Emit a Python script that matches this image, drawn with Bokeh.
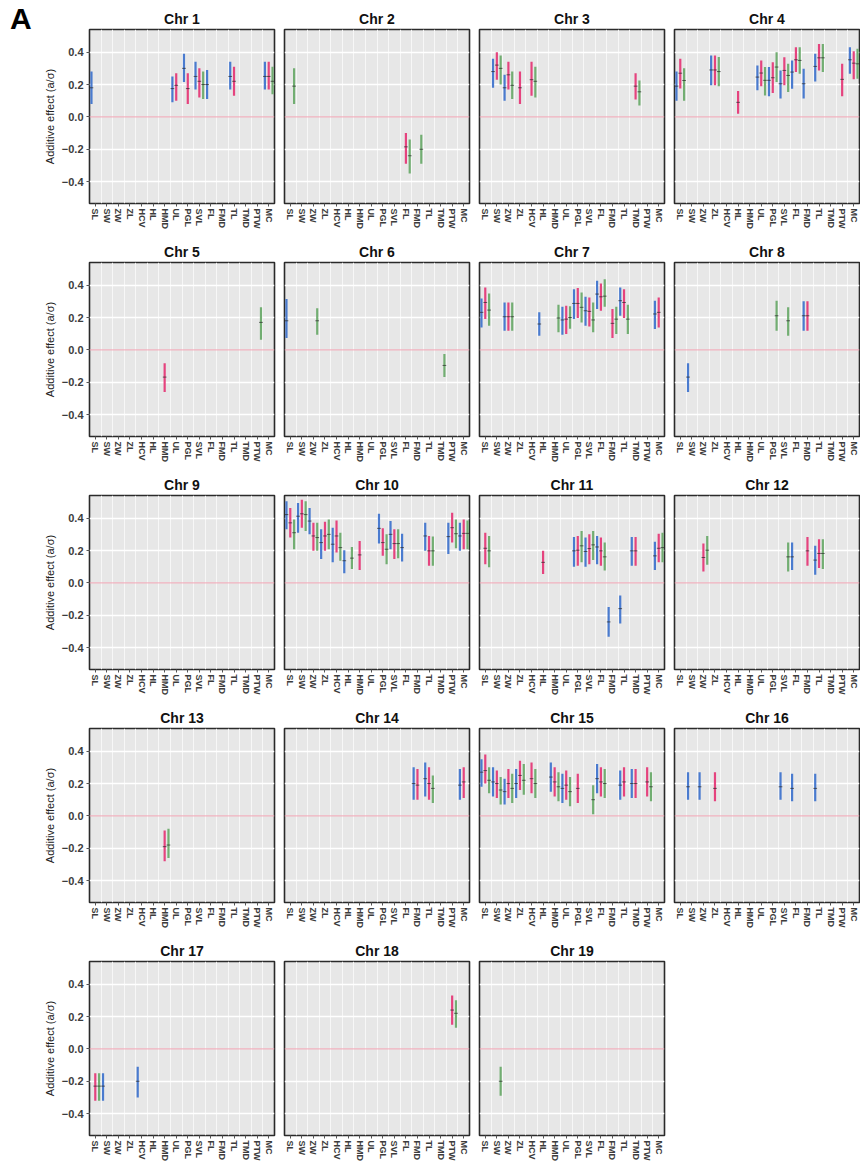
from bokeh.plotting import figure
from bokeh.layouts import gridplot, column
from bokeh.models import Range1d, FixedTicker, Span, Div
from bokeh.embed import file_html
from bokeh.resources import INLINE

TRAITS = ["SL", "SW", "ZW", "ZL", "HCV", "HL", "HMD", "UL", "PGL", "SVL",
          "FL", "FMD", "TL", "TMD", "PTW", "MC"]
Y_TICKS = [-0.4, -0.2, 0.0, 0.2, 0.4]
Y_LABELS = ["\u22120.4", "\u22120.2", "0.0", "0.2", "0.4"]
Y_TITLE = "Additive effect (a/\u03c3)"
PANEL_LETTER = "A"

# (trait, series, estimate, lower, upper) ; series: b = blue, r = red, g = green
CHR1 = [("SL", "b", 0.18, 0.08, 0.28), ("UL", "b", 0.175, 0.09, 0.25), ("UL", "r", 0.195, 0.10, 0.27),
        ("PGL", "b", 0.30, 0.215, 0.39), ("PGL", "r", 0.175, 0.08, 0.27), ("SVL", "b", 0.25, 0.17, 0.34),
        ("SVL", "r", 0.22, 0.12, 0.30), ("SVL", "g", 0.20, 0.11, 0.28), ("FL", "b", 0.20, 0.11, 0.29),
        ("TL", "b", 0.25, 0.17, 0.34), ("TL", "r", 0.22, 0.13, 0.31), ("MC", "b", 0.25, 0.17, 0.34),
        ("MC", "r", 0.25, 0.17, 0.34), ("MC", "g", 0.22, 0.14, 0.31)]
CHR2 = [("SL", "g", 0.19, 0.08, 0.30), ("FL", "r", -0.185, -0.29, -0.10), ("FL", "g", -0.24, -0.35, -0.14),
        ("FMD", "g", -0.20, -0.29, -0.11)]
CHR3 = [("SW", "b", 0.28, 0.18, 0.36), ("SW", "r", 0.32, 0.23, 0.40), ("SW", "g", 0.30, 0.20, 0.38),
        ("ZW", "b", 0.18, 0.10, 0.26), ("ZW", "r", 0.26, 0.17, 0.34), ("ZW", "g", 0.195, 0.11, 0.28),
        ("ZL", "r", 0.18, 0.08, 0.28), ("HCV", "r", 0.23, 0.13, 0.34), ("HCV", "g", 0.22, 0.12, 0.31),
        ("TMD", "r", 0.19, 0.107, 0.27), ("TMD", "g", 0.155, 0.07, 0.225)]
CHR4 = [("SL", "b", 0.19, 0.10, 0.28), ("SL", "r", 0.27, 0.175, 0.36), ("SL", "g", 0.225, 0.10, 0.30),
        ("ZL", "b", 0.29, 0.195, 0.38), ("ZL", "r", 0.29, 0.195, 0.38), ("ZL", "g", 0.28, 0.19, 0.37),
        ("HL", "r", 0.09, 0.02, 0.16),
        ("UL", "b", 0.246, 0.164, 0.318), ("UL", "r", 0.271, 0.189, 0.349), ("UL", "g", 0.226, 0.133, 0.308),
        ("PGL", "b", 0.226, 0.127, 0.308), ("PGL", "r", 0.242, 0.148, 0.338), ("PGL", "g", 0.308, 0.215, 0.40),
        ("SVL", "b", 0.205, 0.113, 0.287), ("SVL", "r", 0.287, 0.195, 0.369), ("SVL", "g", 0.256, 0.154, 0.328),
        ("FL", "b", 0.277, 0.174, 0.349), ("FL", "r", 0.353, 0.277, 0.431), ("FL", "g", 0.349, 0.267, 0.431),
        ("FMD", "b", 0.205, 0.113, 0.297),
        ("TL", "b", 0.312, 0.219, 0.39), ("TL", "r", 0.365, 0.287, 0.451), ("TL", "g", 0.365, 0.277, 0.451),
        ("PTW", "r", 0.232, 0.127, 0.328),
        ("MC", "b", 0.353, 0.267, 0.431), ("MC", "r", 0.332, 0.232, 0.406), ("MC", "g", 0.328, 0.236, 0.421)]
CHR5 = [("HMD", "r", -0.168, -0.26, -0.082), ("PTW", "g", 0.17, 0.062, 0.263)]
CHR6 = [("SL", "b", 0.18, 0.074, 0.314), ("ZW", "g", 0.18, 0.094, 0.258), ("TMD", "g", -0.096, -0.168, -0.025)]
CHR7 = [("SL", "b", 0.232, 0.139, 0.318), ("SL", "r", 0.293, 0.191, 0.386), ("SL", "g", 0.246, 0.150, 0.349),
        ("ZW", "b", 0.205, 0.119, 0.293), ("ZW", "r", 0.205, 0.119, 0.293), ("ZW", "g", 0.205, 0.119, 0.293),
        ("HL", "b", 0.16, 0.088, 0.232), ("HMD", "g", 0.197, 0.109, 0.279),
        ("UL", "b", 0.185, 0.094, 0.267), ("UL", "r", 0.19, 0.098, 0.273), ("UL", "g", 0.20, 0.13, 0.27),
        ("PGL", "b", 0.287, 0.191, 0.375), ("PGL", "r", 0.287, 0.197, 0.382), ("PGL", "g", 0.263, 0.170, 0.355),
        ("SVL", "b", 0.242, 0.150, 0.328), ("SVL", "r", 0.238, 0.144, 0.324), ("SVL", "g", 0.185, 0.109, 0.293),
        ("FL", "b", 0.345, 0.252, 0.427), ("FL", "r", 0.328, 0.242, 0.41), ("FL", "g", 0.332, 0.267, 0.437),
        ("FMD", "r", 0.164, 0.074, 0.252), ("FMD", "g", 0.19, 0.098, 0.267),
        ("TL", "b", 0.304, 0.211, 0.386), ("TL", "r", 0.293, 0.197, 0.375), ("TL", "g", 0.19, 0.098, 0.279),
        ("MC", "b", 0.222, 0.129, 0.304), ("MC", "r", 0.232, 0.139, 0.324)]
CHR8 = [("SW", "b", -0.168, -0.26, -0.082), ("PGL", "g", 0.211, 0.119, 0.304), ("SVL", "g", 0.18, 0.088, 0.263),
        ("FMD", "b", 0.211, 0.119, 0.30), ("FMD", "r", 0.211, 0.119, 0.30)]
CHR9 = []
CHR10 = [("SL", "b", 0.422, 0.331, 0.504), ("SL", "r", 0.371, 0.28, 0.463), ("SL", "g", 0.31, 0.208, 0.392),
         ("SW", "b", 0.412, 0.31, 0.494), ("SW", "r", 0.427, 0.341, 0.514), ("SW", "g", 0.422, 0.32, 0.504),
         ("ZW", "b", 0.382, 0.30, 0.463), ("ZW", "r", 0.29, 0.198, 0.371), ("ZW", "g", 0.28, 0.198, 0.371),
         ("ZL", "b", 0.249, 0.147, 0.331), ("ZL", "r", 0.29, 0.198, 0.378), ("ZL", "g", 0.30, 0.208, 0.392),
         ("HCV", "b", 0.239, 0.127, 0.341), ("HCV", "r", 0.29, 0.188, 0.386), ("HCV", "g", 0.218, 0.137, 0.31),
         ("HL", "b", 0.137, 0.059, 0.202), ("HL", "g", 0.153, 0.086, 0.222), ("HMD", "r", 0.173, 0.08, 0.259),
         ("PGL", "b", 0.337, 0.243, 0.427), ("PGL", "r", 0.249, 0.167, 0.337), ("PGL", "g", 0.208, 0.116, 0.30),
         ("SVL", "b", 0.30, 0.208, 0.382), ("SVL", "r", 0.243, 0.147, 0.331), ("SVL", "g", 0.243, 0.153, 0.331),
         ("FL", "b", 0.218, 0.133, 0.304),
         ("TL", "b", 0.29, 0.198, 0.371), ("TL", "r", 0.198, 0.106, 0.29), ("TL", "g", 0.198, 0.106, 0.286),
         ("PTW", "b", 0.286, 0.178, 0.371), ("PTW", "r", 0.341, 0.249, 0.433), ("PTW", "g", 0.304, 0.214, 0.392),
         ("MC", "b", 0.29, 0.198, 0.371), ("MC", "r", 0.306, 0.208, 0.392), ("MC", "g", 0.306, 0.208, 0.386)]
CHR11 = [("SL", "r", 0.214, 0.116, 0.31), ("SL", "g", 0.198, 0.096, 0.29), ("HL", "r", 0.127, 0.055, 0.198),
         ("PGL", "b", 0.198, 0.10, 0.284), ("PGL", "r", 0.202, 0.106, 0.29), ("PGL", "g", 0.229, 0.127, 0.32),
         ("SVL", "b", 0.194, 0.10, 0.28), ("SVL", "r", 0.212, 0.116, 0.30), ("SVL", "g", 0.235, 0.141, 0.32),
         ("FL", "b", 0.222, 0.116, 0.29), ("FL", "r", 0.198, 0.106, 0.28), ("FL", "g", 0.161, 0.076, 0.249),
         ("FMD", "b", -0.241, -0.333, -0.149), ("TL", "b", -0.159, -0.251, -0.078),
         ("TMD", "b", 0.198, 0.106, 0.284), ("TMD", "r", 0.198, 0.106, 0.284),
         ("MC", "b", 0.167, 0.08, 0.255), ("MC", "r", 0.214, 0.127, 0.304), ("MC", "g", 0.218, 0.127, 0.31)]
CHR12 = [("ZW", "r", 0.157, 0.071, 0.243), ("ZW", "g", 0.202, 0.112, 0.29), ("SVL", "g", 0.161, 0.071, 0.249),
         ("FL", "b", 0.161, 0.08, 0.249), ("FMD", "r", 0.198, 0.106, 0.284),
         ("TL", "b", 0.141, 0.051, 0.229), ("TL", "r", 0.182, 0.092, 0.269), ("TL", "g", 0.182, 0.086, 0.269)]
CHR13 = [("HMD", "r", -0.19, -0.28, -0.09), ("HMD", "g", -0.18, -0.26, -0.08)]
CHR14 = [("FMD", "b", 0.20, 0.10, 0.30), ("FMD", "r", 0.19, 0.10, 0.29), ("TL", "b", 0.23, 0.12, 0.33),
         ("TL", "r", 0.20, 0.10, 0.30), ("TL", "g", 0.17, 0.08, 0.25), ("MC", "b", 0.19, 0.10, 0.29),
         ("MC", "r", 0.21, 0.11, 0.30)]
CHR15 = [("SL", "b", 0.27, 0.18, 0.35), ("SL", "r", 0.28, 0.20, 0.38), ("SL", "g", 0.22, 0.14, 0.30),
         ("SW", "b", 0.21, 0.12, 0.30), ("SW", "r", 0.20, 0.11, 0.28), ("SW", "g", 0.16, 0.07, 0.24),
         ("ZW", "b", 0.15, 0.07, 0.23), ("ZW", "r", 0.20, 0.11, 0.29), ("ZW", "g", 0.17, 0.08, 0.26),
         ("ZL", "b", 0.20, 0.11, 0.29), ("ZL", "r", 0.25, 0.16, 0.34), ("ZL", "g", 0.22, 0.13, 0.32),
         ("HCV", "r", 0.23, 0.14, 0.33), ("HCV", "g", 0.20, 0.11, 0.29),
         ("HMD", "b", 0.24, 0.15, 0.33), ("HMD", "r", 0.21, 0.12, 0.30), ("HMD", "g", 0.18, 0.09, 0.27),
         ("UL", "b", 0.17, 0.08, 0.26), ("UL", "r", 0.19, 0.10, 0.28), ("UL", "g", 0.15, 0.06, 0.24),
         ("PGL", "r", 0.17, 0.08, 0.26), ("SVL", "g", 0.10, 0.01, 0.19),
         ("FL", "b", 0.23, 0.14, 0.32), ("FL", "r", 0.21, 0.12, 0.30), ("FL", "g", 0.20, 0.11, 0.29),
         ("TL", "b", 0.19, 0.10, 0.28), ("TL", "r", 0.21, 0.12, 0.30),
         ("TMD", "b", 0.20, 0.11, 0.29), ("TMD", "r", 0.20, 0.11, 0.29),
         ("PTW", "r", 0.21, 0.12, 0.30), ("PTW", "g", 0.18, 0.09, 0.27)]
CHR16 = [("SW", "b", 0.18, 0.10, 0.27), ("ZW", "b", 0.18, 0.10, 0.27), ("ZL", "r", 0.17, 0.09, 0.27),
         ("SVL", "b", 0.18, 0.10, 0.27), ("FL", "b", 0.17, 0.09, 0.26), ("TL", "b", 0.17, 0.09, 0.26)]
CHR17 = [("SL", "r", -0.23, -0.32, -0.15), ("SL", "g", -0.23, -0.32, -0.15), ("SW", "b", -0.23, -0.32, -0.15),
         ("HCV", "b", -0.20, -0.30, -0.11)]
CHR18 = [("PTW", "r", 0.24, 0.15, 0.33), ("PTW", "g", 0.22, 0.13, 0.30)]
CHR19 = [("SW", "g", -0.20, -0.29, -0.11)]

CHROMS = [CHR1, CHR2, CHR3, CHR4, CHR5, CHR6, CHR7, CHR8, CHR9, CHR10,
          CHR11, CHR12, CHR13, CHR14, CHR15, CHR16, CHR17, CHR18, CHR19]

COLORS = {"b": "#4a7bcf", "r": "#e5437e", "g": "#72ae72"}
DODGE = {"b": -0.33, "r": 0.0, "g": 0.33}
FONT = "Liberation Sans"


def make_panel(num, data, col):
    p = figure(frame_width=185, frame_height=174,
               min_border_left=89 if col == 0 else 4,
               min_border_right=6 if col < 3 else 1,
               min_border_top=29, min_border_bottom=30,
               x_range=Range1d(0.5, 16.5), y_range=Range1d(-0.535, 0.54),
               output_backend="svg", toolbar_location=None, title=f"Chr {num}")
    p.title.align = "center"
    p.title.text_font = FONT
    p.title.text_font_size = "14px"
    p.title.text_font_style = "bold"
    p.title.text_color = "#111111"
    p.title.standoff = 6
    p.background_fill_color = "#e7e7e7"
    p.border_fill_color = "white"
    p.outline_line_color = "#2a2a2a"
    p.outline_line_width = 1.6

    p.xgrid.ticker = FixedTicker(ticks=[i + 0.5 for i in range(17)])
    p.xgrid.grid_line_color = "#f7f7f7"
    p.xgrid.grid_line_width = 1
    p.ygrid.ticker = FixedTicker(ticks=[-0.4, -0.2, 0.2, 0.4])
    p.ygrid.grid_line_color = "white"
    p.ygrid.grid_line_width = 1.6

    p.xaxis.ticker = FixedTicker(ticks=list(range(1, 17)))
    p.xaxis.major_label_overrides = {i + 1: t for i, t in enumerate(TRAITS)}
    p.xaxis.major_label_orientation = "vertical"
    p.xaxis.major_label_text_font = FONT
    p.xaxis.major_label_text_font_size = "9px"
    p.xaxis.major_label_text_font_style = "bold"
    p.xaxis.major_label_text_color = "#3c3c3c"
    p.xaxis.major_label_standoff = 2
    p.xaxis.axis_line_color = None
    p.xaxis.major_tick_in = 0
    p.xaxis.major_tick_out = 3
    p.xaxis.major_tick_line_color = "#555555"
    p.xaxis.minor_tick_line_color = None

    if col == 0:
        p.yaxis.ticker = FixedTicker(ticks=Y_TICKS)
        p.yaxis.major_label_overrides = {t: l for t, l in zip(Y_TICKS, Y_LABELS)}
        p.yaxis.major_label_text_font = FONT
        p.yaxis.major_label_text_font_size = "11px"
        p.yaxis.major_label_text_font_style = "bold"
        p.yaxis.major_label_text_color = "#3c3c3c"
        p.yaxis.major_label_standoff = 3
        p.yaxis.axis_line_color = None
        p.yaxis.major_tick_in = 0
        p.yaxis.major_tick_out = 3
        p.yaxis.major_tick_line_color = "#555555"
        p.yaxis.minor_tick_line_color = None
        p.yaxis.axis_label = Y_TITLE
        p.yaxis.axis_label_text_font = FONT
        p.yaxis.axis_label_text_font_size = "11px"
        p.yaxis.axis_label_text_font_style = "normal"
        p.yaxis.axis_label_text_color = "#222222"
        p.yaxis.axis_label_standoff = 3
    else:
        p.yaxis.visible = False

    p.add_layout(Span(location=0, dimension="width", line_color="#f4a5b6", line_width=1))

    if data:
        xs = [TRAITS.index(t) + 1 + DODGE[s] for t, s, e, lo, hi in data]
        cols = [COLORS[s] for t, s, e, lo, hi in data]
        est = [e for t, s, e, lo, hi in data]
        los = [lo for t, s, e, lo, hi in data]
        his = [hi for t, s, e, lo, hi in data]
        p.segment(x0=xs, y0=los, x1=xs, y1=his, line_color=cols, line_width=2.2)
        p.segment(x0=[x - 0.16 for x in xs], y0=est, x1=[x + 0.16 for x in xs], y1=est,
                  line_color="#2a2a2a", line_alpha=0.7, line_width=1)
    return p


grid = []
for r in range(5):
    row = []
    for c in range(4):
        i = r * 4 + c
        row.append(make_panel(i + 1, CHROMS[i], c) if i < len(CHROMS) else None)
    grid.append(row)

letter = Div(text=PANEL_LETTER, width=30, height=34,
             styles={"position": "absolute", "left": "5px", "top": "-3px", "z-index": "10",
                     "font-family": FONT, "font-size": "30px", "font-weight": "bold",
                     "color": "black", "line-height": "34px"})

layout = column(letter, gridplot(grid, toolbar_location=None), spacing=0)
open("out.html", "w").write(file_html(layout, INLINE))
